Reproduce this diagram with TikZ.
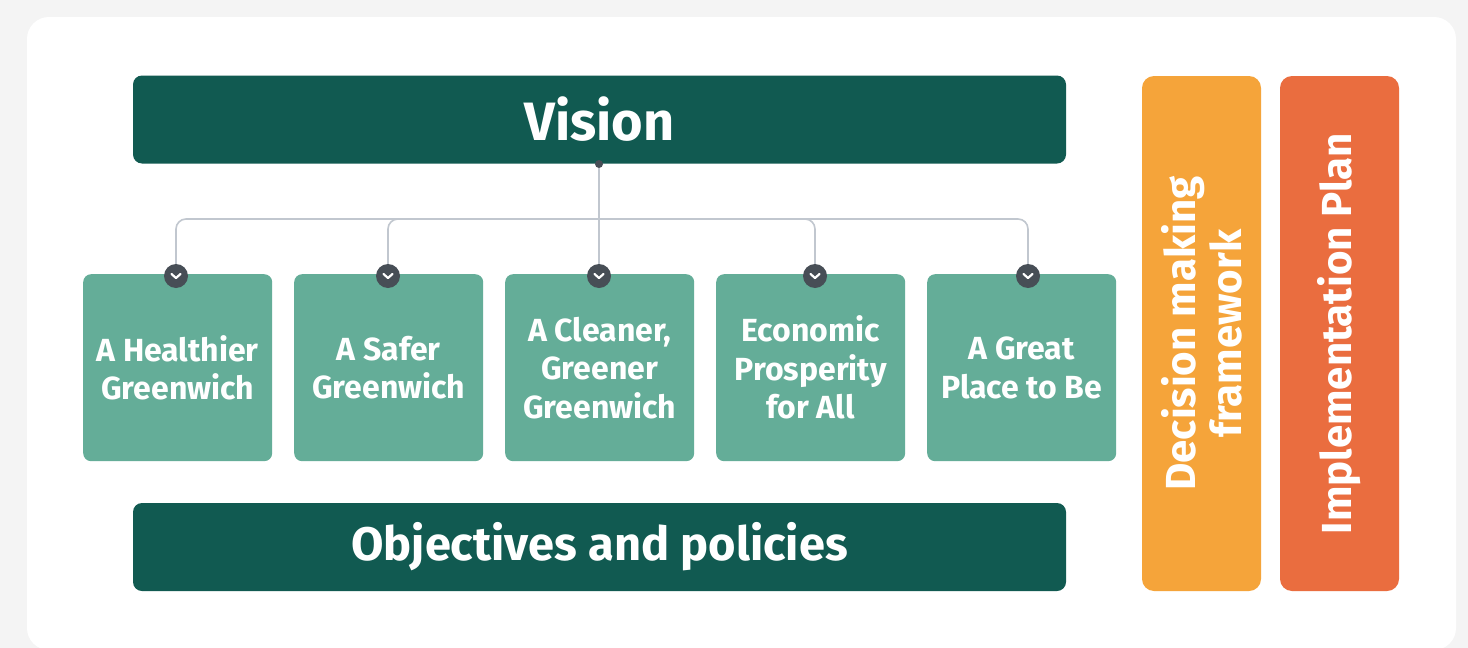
\documentclass[tikz,border=0pt]{standalone}
\usepackage{fontspec}
\setmainfont{Fira Sans}
\definecolor{darkgreen}{HTML}{115A51}
\definecolor{goalgreen}{HTML}{64AD98}
\definecolor{sideorange}{HTML}{F5A43A}
\definecolor{sidered}{HTML}{EA6D3F}
\definecolor{linkgray}{HTML}{C1C7CF}
\definecolor{knobgray}{HTML}{474E56}
\definecolor{pagegray}{HTML}{F4F4F4}
\tikzset{
  banner/.style={fill=darkgreen, rounded corners=9pt, text=white, inner sep=0pt,
    minimum width=933pt, minimum height=88pt},
  goalbox/.style={fill=goalgreen, rounded corners=8pt, text=white, inner sep=0pt,
    minimum width=189pt, minimum height=187pt, align=center, anchor=north west,
    font=\fontsize{32}{38.5}\selectfont\bfseries},
  sidebox/.style={rounded corners=12pt, text=white, inner sep=0pt, rotate=90,
    minimum width=515pt, minimum height=119pt, align=center,
    font=\fontsize{42}{46}\selectfont\bfseries},
  knob/.style={circle, fill=knobgray, minimum size=24pt, inner sep=0pt},
  link/.style={draw=linkgray, line width=1.6pt, rounded corners=10pt}
}
\begin{document}
\begin{tikzpicture}[x=1pt,y=-1pt]
\useasboundingbox (0,0) rectangle (1468,648);
% page and panel
\fill[pagegray] (0,0) rectangle (1468,648);
\fill[white, rounded corners=22pt] (27,17) rectangle (1456,650);

% banners
\node[banner, font=\fontsize{54}{60}\selectfont\bfseries] (vision) at (599.5,119.5) {Vision};
\node[banner, font=\fontsize{47}{52}\selectfont\bfseries] (objectives) at (599.5,547) {Objectives and policies};

% goals
\node[goalbox] (g1) at (83,274) {A Healthier\\Greenwich};
\node[goalbox] (g2) at (294,274) {A Safer\\Greenwich};
\node[goalbox] (g3) at (505,274) {A Cleaner,\\Greener\\Greenwich};
\node[goalbox] (g4) at (716,274) {Economic\\Prosperity\\for All};
\node[goalbox] (g5) at (927,274) {A Great\\Place to Be};

% side columns
\node[sidebox, fill=sideorange] (decision) at (1201.5,333.5) {Decision making\\framework};
\node[sidebox, fill=sidered] (plan) at (1339.5,333.5) {Implementation Plan};

% connectors
\node[circle, fill=knobgray, minimum size=8pt, inner sep=0pt] (dot) at (599,164) {};
\coordinate (hub) at (599,219);
\foreach \i/\x in {1/176, 2/388, 3/599, 4/815, 5/1028}
  \node[knob] (k\i) at (\x,276) {};
\draw[link] (dot) -- (k3.north);
\foreach \i in {1,2,4,5}
  \draw[link] (hub) -| (k\i.north);
\foreach \i in {1,...,5}
  \draw[white, line width=2.2pt, line cap=round, line join=round]
    (k\i.center) ++(-4.5,-2) -- ++(4.5,4) -- ++(4.5,-4);
\end{tikzpicture}
\end{document}
